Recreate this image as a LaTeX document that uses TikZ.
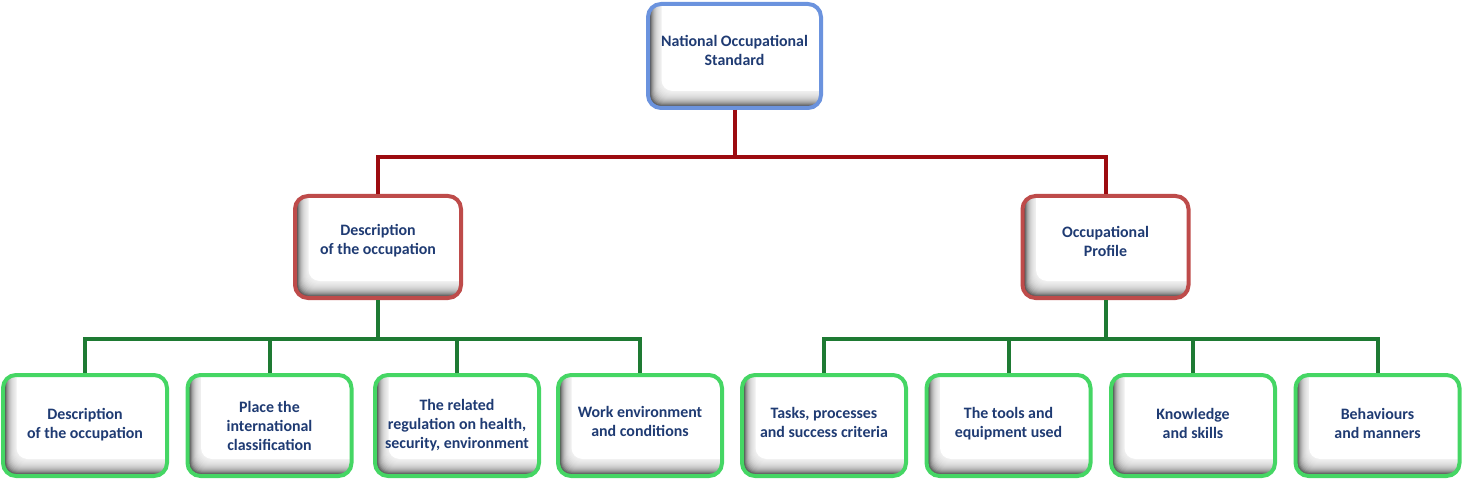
\documentclass[tikz,border=0pt]{standalone}
\usepackage{fontspec}
\setmainfont{Carlito}
\definecolor{txtblue}{HTML}{1F3B73}
\definecolor{bluebd}{HTML}{6B93DE}
\definecolor{redbd}{HTML}{BE4B4A}
\definecolor{greenbd}{HTML}{45D664}
\definecolor{redln}{HTML}{9C0B10}
\definecolor{greenln}{HTML}{1E7A33}
\tikzset{
  shadowed/.style={path picture={
    \fill[black!86] (path picture bounding box.south west) rectangle (path picture bounding box.north east);
    \foreach \i in {1,...,16}{
      \fill[white, fill opacity=0.16, rounded corners=11pt]
        ([shift={(\i*0.75pt+0.8pt,\i*1.0pt)}]path picture bounding box.south west)
        rectangle ([shift={(30pt,30pt)}]path picture bounding box.north east);
    }
    \fill[white, rounded corners=11pt]
      ([shift={(13.5pt,17pt)}]path picture bounding box.south west)
      rectangle ([shift={(30pt,30pt)}]path picture bounding box.north east);
  }},
  boxbase/.style={shape=rectangle, rounded corners=13pt, line width=4pt, inner sep=0pt,
    fill=white, shadowed},
  topbox/.style={boxbase, draw=bluebd, minimum width=173pt, minimum height=104pt},
  midbox/.style={boxbase, draw=redbd, minimum width=166pt, minimum height=102pt},
  lowbox/.style={boxbase, draw=greenbd, minimum width=164pt, minimum height=101pt},
  txt/.style={font=\bfseries\fontsize{15.9}{19}\selectfont, text=txtblue, align=center, inner sep=0pt},
  redline/.style={draw=redln, line width=4pt},
  greenline/.style={draw=greenln, line width=4pt},
}
\begin{document}
\begin{tikzpicture}[x=1pt,y=-1pt]
\useasboundingbox (0,0) rectangle (1464,481);
% boxes
\node[topbox] (top) at (734.5,56) {};
\node[midbox] (ml) at (378,247) {};
\node[midbox] (mr) at (1105.5,247) {};
\node[lowbox] (b1) at (85,425.5) {};
\node[lowbox] (b2) at (269.5,425.5) {};
\node[lowbox] (b3) at (457,425.5) {};
\node[lowbox] (b4) at (640,425.5) {};
\node[lowbox] (b5) at (824,425.5) {};
\node[lowbox] (b6) at (1008.5,425.5) {};
\node[lowbox] (b7) at (1193,425.5) {};
\node[lowbox] (b8) at (1377.5,425.5) {};
% texts
\node[txt] (t0) at ([yshift=6pt]top.center) {National Occupational\\Standard};
\node[txt] (tl) at ([yshift=6pt]ml.center) {Description\\of the occupation};
\node[txt] (tr) at ([yshift=6pt]mr.center) {Occupational\\Profile};
\node[txt] (t1) at ([yshift=1pt]b1.center) {Description\\of the occupation};
\node[txt] (t2) at ([yshift=0pt]b2.center) {Place the\\international\\classification};
\node[txt] (t3) at ([yshift=0pt]b3.center) {The related\\regulation on health,\\security, environment};
\node[txt] (t4) at ([yshift=4pt]b4.center) {Work environment\\and conditions};
\node[txt] (t5) at ([yshift=3pt]b5.center) {Tasks, processes\\and success criteria};
\node[txt] (t6) at ([yshift=2pt]b6.center) {The tools and\\equipment used};
\node[txt] (t7) at ([yshift=2pt]b7.center) {Knowledge\\and skills};
\node[txt] (t8) at ([yshift=2pt]b8.center) {Behaviours\\and manners};
% connectors
\draw[redline] (top.south) -- ++(0,47) -| (ml.north);
\draw[redline] (top.south) -- ++(0,47) -| (mr.north);
\foreach \b in {b1,b2,b3,b4}{
  \draw[greenline] (ml.south) -- ++(0,39) -| (\b.north);
}
\foreach \b in {b5,b6,b7,b8}{
  \draw[greenline] (mr.south) -- ++(0,39) -| (\b.north);
}
\end{tikzpicture}
\end{document}
